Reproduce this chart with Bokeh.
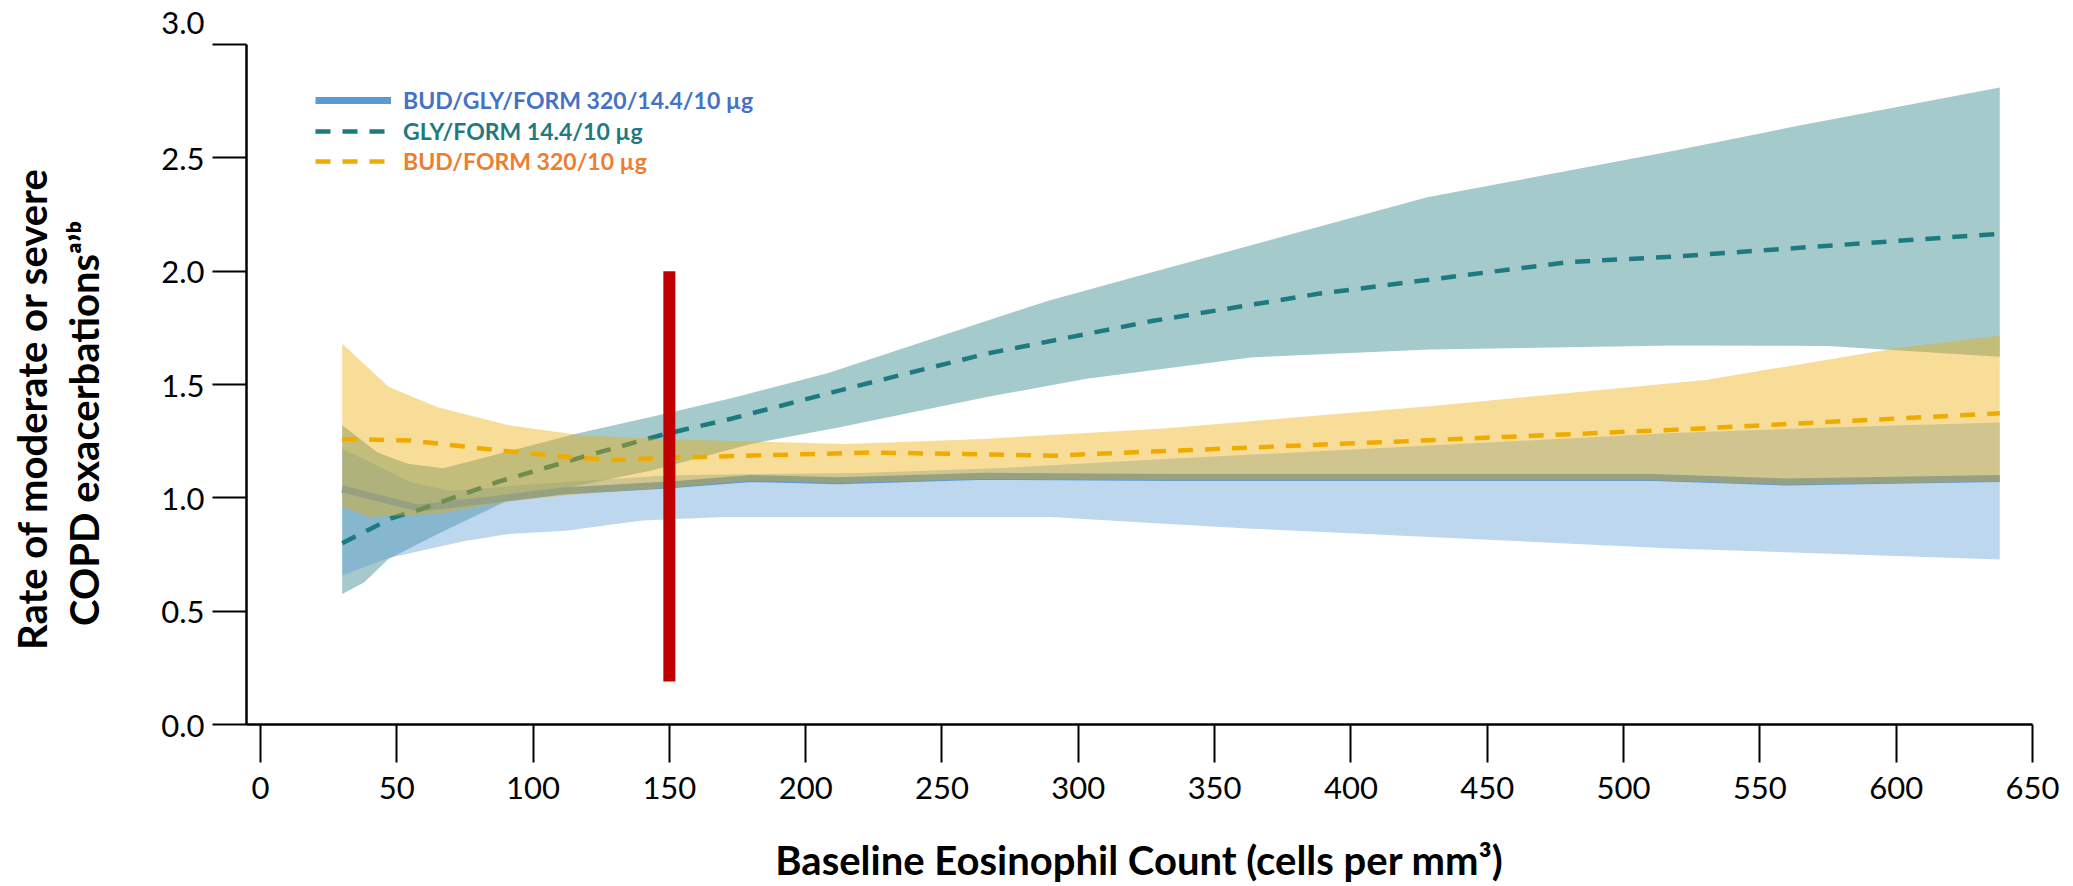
from bokeh.plotting import figure
from bokeh.models import (Range1d, FixedTicker, PrintfTickFormatter, Title,
                          Legend, LegendItem)
from bokeh.embed import file_html
from bokeh.resources import INLINE

# ---------------- data ----------------
x_ticks = [0, 50, 100, 150, 200, 250, 300, 350, 400, 450, 500, 550, 600, 650]
y_ticks = [0.0, 0.5, 1.0, 1.5, 2.0, 2.5, 3.0]

# BUD/GLY/FORM 320/14.4/10 ug (triple)
blue_mid_x = [30, 43, 58, 84, 111, 148, 180, 212, 266, 335, 420, 511, 560, 638]
blue_mid_y = [1.04, 1.0, 0.955, 0.99, 1.03, 1.055, 1.085, 1.075, 1.095, 1.09, 1.09, 1.09, 1.07, 1.085]
blue_up_x = [30, 43, 55, 70, 100, 150, 220, 270, 330, 420, 518, 575, 638]
blue_up_y = [1.216, 1.14, 1.07, 1.03, 1.06, 1.10, 1.11, 1.13, 1.17, 1.225, 1.286, 1.31, 1.332]
blue_lo_x = [30, 47, 75, 91, 112, 140, 170, 290, 330, 364, 518, 638]
blue_lo_y = [0.657, 0.735, 0.81, 0.84, 0.855, 0.90, 0.915, 0.915, 0.887, 0.864, 0.777, 0.728]

# GLY/FORM 14.4/10 ug
teal_mid_x = [30, 48, 59, 87, 118, 148, 173, 217, 266, 327, 388, 450, 480, 518, 638]
teal_mid_y = [0.80, 0.91, 0.95, 1.07, 1.18, 1.28, 1.35, 1.488, 1.635, 1.78, 1.90, 1.995, 2.04, 2.064, 2.165]
teal_up_x = [30, 43, 54, 67, 115, 148, 173, 208, 289, 327, 428, 518, 565, 638]
teal_up_y = [1.32, 1.20, 1.15, 1.13, 1.28, 1.37, 1.44, 1.55, 1.87, 1.995, 2.326, 2.53, 2.644, 2.81]
teal_lo_x = [30, 38, 47, 65, 91, 115, 143, 180, 212, 266, 303, 364, 429, 518, 575, 638]
teal_lo_y = [0.576, 0.627, 0.73, 0.84, 0.99, 1.05, 1.12, 1.238, 1.31, 1.444, 1.525, 1.62, 1.654, 1.672, 1.67, 1.622]

# BUD/FORM 320/10 ug
yel_mid_x = [30, 55, 87, 111, 128, 150, 175, 225, 290, 335, 420, 518, 638]
yel_mid_y = [1.26, 1.253, 1.21, 1.182, 1.167, 1.176, 1.185, 1.20, 1.186, 1.208, 1.25, 1.30, 1.373]
yel_up_x = [30, 47, 65, 91, 118, 148, 175, 215, 265, 330, 430, 530, 600, 638]
yel_up_y = [1.68, 1.49, 1.40, 1.32, 1.275, 1.26, 1.25, 1.238, 1.26, 1.305, 1.405, 1.52, 1.66, 1.715]
yel_lo_x = [30, 40, 65, 91, 120, 150, 180, 212, 266, 335, 420, 511, 560, 638]
yel_lo_y = [0.96, 0.915, 0.93, 0.985, 1.02, 1.045, 1.075, 1.065, 1.083, 1.078, 1.078, 1.078, 1.058, 1.072]

# threshold marker
cut_x = [150]
cut_y0 = [0.19]
cut_y1 = [2.0]

labels = ["BUD/GLY/FORM 320/14.4/10 \u00b5g", "GLY/FORM 14.4/10 \u00b5g", "BUD/FORM 320/10 \u00b5g"]
x_title = "Baseline Eosinophil Count (cells per mm\u00b3)"
y_title_1 = "Rate of moderate or severe"
y_title_2 = "COPD exacerbations\u1d43\u02bc\u1d47"

BLUE = "#5B9BD5"
TEAL = "#1D7A80"
YEL_BAND = "#EEAA00"
YEL_LINE = "#F0AB00"
FONT = "Lato"
NB = "\u00a0"

p = figure(width=2073, height=886, output_backend="svg", toolbar_location=None,
           x_range=Range1d(-5.1, 650), y_range=Range1d(0, 3.0),
           min_border_left=246, min_border_right=41, min_border_top=44,
           min_border_bottom=162)
p.outline_line_color = None
p.xgrid.visible = False
p.ygrid.visible = False
p.background_fill_color = "white"
p.border_fill_color = "white"


def band(xu, yu, xl, yl):
    return list(xu) + list(reversed(xl)), list(yu) + list(reversed(yl))


tx, ty = band(teal_up_x, teal_up_y, teal_lo_x, teal_lo_y)
p.patch(tx, ty, fill_color=TEAL, fill_alpha=0.4, line_color=None)
bx, by = band(blue_up_x, blue_up_y, blue_lo_x, blue_lo_y)
p.patch(bx, by, fill_color=BLUE, fill_alpha=0.4, line_color=None)

r_blue = p.line(blue_mid_x, blue_mid_y, line_color=BLUE, line_width=7)
r_teal = p.line(teal_mid_x, teal_mid_y, line_color=TEAL, line_width=4.5, line_dash="15 12")

yx, yy = band(yel_up_x, yel_up_y, yel_lo_x, yel_lo_y)
p.patch(yx, yy, fill_color=YEL_BAND, fill_alpha=0.4, line_color=None)
r_yel = p.line(yel_mid_x, yel_mid_y, line_color=YEL_LINE, line_width=4.5, line_dash="15 12")

p.segment(x0=cut_x, y0=cut_y0, x1=cut_x, y1=cut_y1, line_color="#C00000",
          line_width=12, line_cap="butt")

# axes
for ax in (p.xaxis[0], p.yaxis[0]):
    ax.axis_line_width = 2.5
    ax.axis_line_color = "black"
    ax.major_tick_line_width = 2
    ax.major_tick_line_color = "black"
    ax.minor_tick_line_color = None
    ax.major_tick_in = 0
    ax.major_label_text_font = FONT
    ax.major_label_text_font_size = "31px"
    ax.major_label_text_color = "black"
    ax.axis_label_text_font = FONT
    ax.axis_label_text_font_size = "40px"
    ax.axis_label_text_font_style = "bold"
    ax.axis_label_text_color = "black"

p.xaxis.ticker = FixedTicker(ticks=x_ticks)
p.xaxis.major_tick_out = 38
p.xaxis.major_label_standoff = 14
p.xaxis.axis_label = x_title
p.xaxis.axis_label_standoff = 34

p.yaxis.ticker = FixedTicker(ticks=y_ticks)
p.yaxis.formatter = PrintfTickFormatter(format="%.1f")
p.yaxis.major_label_overrides = {3.0: "3.0\n" + NB}
p.yaxis.major_tick_out = 34
p.yaxis.major_label_standoff = 8
p.yaxis.axis_label = y_title_2 + NB * 8
p.yaxis.axis_label_standoff = 50

p.add_layout(Title(text=y_title_1 + NB * 5, align="center", standoff=3,
                   text_font=FONT, text_font_size="40px", text_font_style="bold",
                   text_color="black"), "left")

# legend: one legend per entry so each label keeps its own colour
legend_colors = ["#4472C4", "#1F7A80", "#ED7D31"]
legend_renderers = [r_blue, r_teal, r_yel]
legend_bottoms = [610, 579, 549]
for lab, col, rend, vy in zip(labels, legend_colors, legend_renderers, legend_bottoms):
    lg = Legend(items=[LegendItem(label=lab, renderers=[rend])],
                location=(69, vy), orientation="vertical",
                padding=0, margin=0, spacing=0,
                glyph_width=76, glyph_height=24, label_height=24,
                label_standoff=12, border_line_color=None,
                background_fill_alpha=0,
                label_text_font=FONT, label_text_font_size="23px",
                label_text_font_style="bold", label_text_color=col)
    p.add_layout(lg, "center")

open("out.html", "w").write(file_html(p, INLINE))
